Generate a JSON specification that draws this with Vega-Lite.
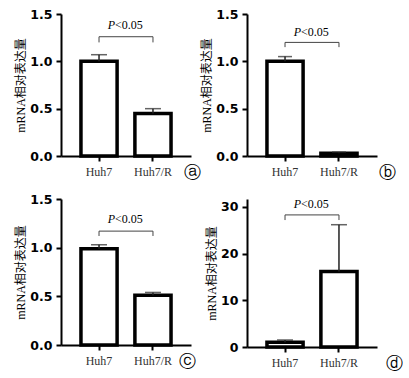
{
  "$schema": "https://vega.github.io/schema/vega-lite/v6.json",
  "background": "white",
  "padding": {"left": 14, "top": 8, "right": 0, "bottom": 0},
  "config": {
    "view": {"stroke": null},
    "axis": {"domainColor": "#000", "domainWidth": 2, "tickColor": "#000", "tickWidth": 2, "tickSize": 5, "grid": false, "labelColor": "#000"},
    "axisY": {"labelFont": "DejaVu Sans", "labelFontWeight": "bold", "labelFontSize": 12.5, "titleFont": "'Liberation Serif', 'Noto Sans CJK SC'", "titleFontSize": 12, "titleFontWeight": "normal", "titleColor": "#000", "titlePadding": 2, "labelPadding": 4},
    "axisX": {"labelFont": "Liberation Serif", "labelFontSize": 12, "labelAngle": 0, "labelPadding": 5, "labelColor": "#333"}
  },
  "columns": 2,
  "bounds": "flush",
  "spacing": {"row": 43, "column": 56},
  "concat": [
    {
      "width": 130, "height": 142,
      "layer": [
        {
          "data": {"values": [{"group": "Huh7", "value": 1.0, "upper": 1.07}, {"group": "Huh7/R", "value": 0.45, "upper": 0.50}]},
          "layer": [
            {"mark": {"type": "bar", "fill": "white", "stroke": "black", "strokeWidth": 3.5},
             "encoding": {
               "x": {"field": "group", "type": "nominal", "scale": {"domain": ["Huh7", "Huh7/R"], "paddingInner": 0.33, "paddingOuter": 0.37}, "axis": {"title": null}},
               "y": {"field": "value", "type": "quantitative", "scale": {"domain": [0, 1.5], "nice": false}, "axis": {"values": [0, 0.5, 1, 1.5], "format": ".1f", "title": "mRNA相对表达量"}}}},
            {"mark": {"type": "rule", "color": "#222", "strokeWidth": 1.5},
             "encoding": {"x": {"field": "group", "type": "nominal"}, "y": {"field": "value", "type": "quantitative"}, "y2": {"field": "upper"}}},
            {"mark": {"type": "tick", "color": "#222", "thickness": 1.5, "size": 16, "orient": "horizontal"},
             "encoding": {"x": {"field": "group", "type": "nominal"}, "y": {"field": "upper", "type": "quantitative"}}}
          ]
        },
        {
          "data": {"values": [{"group": "Huh7", "top": 1.26, "end": 1.2, "label": 1.38, "letter": "ⓐ"}, {"group": "Huh7/R", "top": 1.26, "end": 1.2, "label": 1.38, "letter": "ⓐ"}]},
          "layer": [
            {"mark": {"type": "rule", "color": "#444", "strokeWidth": 1},
             "encoding": {"x": {"field": "group", "type": "nominal"}, "y": {"field": "end", "type": "quantitative"}, "y2": {"field": "top"}}},
            {"transform": [{"filter": "datum.group === 'Huh7'"}],
             "layer": [
               {"mark": {"type": "rule", "color": "#444", "strokeWidth": 1},
                "encoding": {"x": {"field": "group", "type": "nominal"}, "x2": {"datum": "Huh7/R"}, "y": {"field": "top", "type": "quantitative"}}},
               {"mark": {"type": "text", "text": "P", "font": "Liberation Serif", "fontStyle": "italic", "fontSize": 12, "align": "right", "baseline": "middle", "dx": 16},
                "encoding": {"x": {"field": "group", "type": "nominal"}, "y": {"field": "label", "type": "quantitative"}}},
               {"mark": {"type": "text", "text": "<0.05", "font": "Liberation Serif", "fontSize": 12, "align": "left", "baseline": "middle", "dx": 16},
                "encoding": {"x": {"field": "group", "type": "nominal"}, "y": {"field": "label", "type": "quantitative"}}},
               {"mark": {"type": "text", "font": "DejaVu Sans", "fontSize": 17, "align": "center", "baseline": "middle", "dx": 93, "dy": 17},
                "encoding": {"x": {"field": "group", "type": "nominal"}, "y": {"datum": 0, "type": "quantitative"}, "text": {"field": "letter"}}}
             ]}
          ]
        }
      ]
    },
    {
      "width": 130, "height": 142,
      "layer": [
        {
          "data": {"values": [{"group": "Huh7", "value": 1.0, "upper": 1.05}, {"group": "Huh7/R", "value": 0.03, "upper": 0.04}]},
          "layer": [
            {"mark": {"type": "bar", "fill": "white", "stroke": "black", "strokeWidth": 3.5},
             "encoding": {
               "x": {"field": "group", "type": "nominal", "scale": {"domain": ["Huh7", "Huh7/R"], "paddingInner": 0.33, "paddingOuter": 0.37}, "axis": {"title": null}},
               "y": {"field": "value", "type": "quantitative", "scale": {"domain": [0, 1.5], "nice": false}, "axis": {"values": [0, 0.5, 1, 1.5], "format": ".1f", "title": "mRNA相对表达量"}}}},
            {"mark": {"type": "rule", "color": "#222", "strokeWidth": 1.5},
             "encoding": {"x": {"field": "group", "type": "nominal"}, "y": {"field": "value", "type": "quantitative"}, "y2": {"field": "upper"}}},
            {"mark": {"type": "tick", "color": "#222", "thickness": 1.5, "size": 14, "orient": "horizontal"},
             "encoding": {"x": {"field": "group", "type": "nominal"}, "y": {"field": "upper", "type": "quantitative"}}}
          ]
        },
        {
          "data": {"values": [{"group": "Huh7", "top": 1.2, "end": 1.15, "label": 1.31, "letter": "ⓑ"}, {"group": "Huh7/R", "top": 1.2, "end": 1.15, "label": 1.31, "letter": "ⓑ"}]},
          "layer": [
            {"mark": {"type": "rule", "color": "#444", "strokeWidth": 1},
             "encoding": {"x": {"field": "group", "type": "nominal"}, "y": {"field": "end", "type": "quantitative"}, "y2": {"field": "top"}}},
            {"transform": [{"filter": "datum.group === 'Huh7'"}],
             "layer": [
               {"mark": {"type": "rule", "color": "#444", "strokeWidth": 1},
                "encoding": {"x": {"field": "group", "type": "nominal"}, "x2": {"datum": "Huh7/R"}, "y": {"field": "top", "type": "quantitative"}}},
               {"mark": {"type": "text", "text": "P", "font": "Liberation Serif", "fontStyle": "italic", "fontSize": 12, "align": "right", "baseline": "middle", "dx": 16},
                "encoding": {"x": {"field": "group", "type": "nominal"}, "y": {"field": "label", "type": "quantitative"}}},
               {"mark": {"type": "text", "text": "<0.05", "font": "Liberation Serif", "fontSize": 12, "align": "left", "baseline": "middle", "dx": 16},
                "encoding": {"x": {"field": "group", "type": "nominal"}, "y": {"field": "label", "type": "quantitative"}}},
               {"mark": {"type": "text", "font": "DejaVu Sans", "fontSize": 17, "align": "center", "baseline": "middle", "dx": 102, "dy": 17},
                "encoding": {"x": {"field": "group", "type": "nominal"}, "y": {"datum": 0, "type": "quantitative"}, "text": {"field": "letter"}}}
             ]}
          ]
        }
      ]
    },
    {
      "width": 130, "height": 146,
      "layer": [
        {
          "data": {"values": [{"group": "Huh7", "value": 0.99, "upper": 1.03}, {"group": "Huh7/R", "value": 0.51, "upper": 0.54}]},
          "layer": [
            {"mark": {"type": "bar", "fill": "white", "stroke": "black", "strokeWidth": 3.5},
             "encoding": {
               "x": {"field": "group", "type": "nominal", "scale": {"domain": ["Huh7", "Huh7/R"], "paddingInner": 0.33, "paddingOuter": 0.37}, "axis": {"title": null}},
               "y": {"field": "value", "type": "quantitative", "scale": {"domain": [0, 1.5], "nice": false}, "axis": {"values": [0, 0.5, 1, 1.5], "format": ".1f", "title": "mRNA相对表达量"}}}},
            {"mark": {"type": "rule", "color": "#222", "strokeWidth": 1.5},
             "encoding": {"x": {"field": "group", "type": "nominal"}, "y": {"field": "value", "type": "quantitative"}, "y2": {"field": "upper"}}},
            {"mark": {"type": "tick", "color": "#222", "thickness": 1.5, "size": 16, "orient": "horizontal"},
             "encoding": {"x": {"field": "group", "type": "nominal"}, "y": {"field": "upper", "type": "quantitative"}}}
          ]
        },
        {
          "data": {"values": [{"group": "Huh7", "top": 1.17, "end": 1.12, "label": 1.29, "letter": "ⓒ"}, {"group": "Huh7/R", "top": 1.17, "end": 1.12, "label": 1.29, "letter": "ⓒ"}]},
          "layer": [
            {"mark": {"type": "rule", "color": "#444", "strokeWidth": 1},
             "encoding": {"x": {"field": "group", "type": "nominal"}, "y": {"field": "end", "type": "quantitative"}, "y2": {"field": "top"}}},
            {"transform": [{"filter": "datum.group === 'Huh7'"}],
             "layer": [
               {"mark": {"type": "rule", "color": "#444", "strokeWidth": 1},
                "encoding": {"x": {"field": "group", "type": "nominal"}, "x2": {"datum": "Huh7/R"}, "y": {"field": "top", "type": "quantitative"}}},
               {"mark": {"type": "text", "text": "P", "font": "Liberation Serif", "fontStyle": "italic", "fontSize": 12, "align": "right", "baseline": "middle", "dx": 16},
                "encoding": {"x": {"field": "group", "type": "nominal"}, "y": {"field": "label", "type": "quantitative"}}},
               {"mark": {"type": "text", "text": "<0.05", "font": "Liberation Serif", "fontSize": 12, "align": "left", "baseline": "middle", "dx": 16},
                "encoding": {"x": {"field": "group", "type": "nominal"}, "y": {"field": "label", "type": "quantitative"}}},
               {"mark": {"type": "text", "font": "DejaVu Sans", "fontSize": 17, "align": "center", "baseline": "middle", "dx": 88, "dy": 17},
                "encoding": {"x": {"field": "group", "type": "nominal"}, "y": {"datum": 0, "type": "quantitative"}, "text": {"field": "letter"}}}
             ]}
          ]
        }
      ]
    },
    {
      "width": 130, "height": 148,
      "layer": [
        {
          "data": {"values": [{"group": "Huh7", "value": 1.0, "upper": 1.5}, {"group": "Huh7/R", "value": 16.2, "upper": 26.2}]},
          "layer": [
            {"mark": {"type": "bar", "fill": "white", "stroke": "black", "strokeWidth": 3.5},
             "encoding": {
               "x": {"field": "group", "type": "nominal", "scale": {"domain": ["Huh7", "Huh7/R"], "paddingInner": 0.33, "paddingOuter": 0.37}, "axis": {"title": null}},
               "y": {"field": "value", "type": "quantitative", "scale": {"domain": [0, 31.71], "nice": false}, "axis": {"values": [0, 10, 20, 30], "format": "d", "title": "mRNA相对表达量"}}}},
            {"mark": {"type": "rule", "color": "#222", "strokeWidth": 1.5},
             "encoding": {"x": {"field": "group", "type": "nominal"}, "y": {"field": "value", "type": "quantitative"}, "y2": {"field": "upper"}}},
            {"mark": {"type": "tick", "color": "#222", "thickness": 1.5, "size": 16, "orient": "horizontal"},
             "encoding": {"x": {"field": "group", "type": "nominal"}, "y": {"field": "upper", "type": "quantitative"}}}
          ]
        },
        {
          "data": {"values": [{"group": "Huh7", "top": 28.3, "end": 27.2, "label": 30.6, "letter": "ⓓ"}, {"group": "Huh7/R", "top": 28.3, "end": 27.2, "label": 30.6, "letter": "ⓓ"}]},
          "layer": [
            {"mark": {"type": "rule", "color": "#444", "strokeWidth": 1},
             "encoding": {"x": {"field": "group", "type": "nominal"}, "y": {"field": "end", "type": "quantitative"}, "y2": {"field": "top"}}},
            {"transform": [{"filter": "datum.group === 'Huh7'"}],
             "layer": [
               {"mark": {"type": "rule", "color": "#444", "strokeWidth": 1},
                "encoding": {"x": {"field": "group", "type": "nominal"}, "x2": {"datum": "Huh7/R"}, "y": {"field": "top", "type": "quantitative"}}},
               {"mark": {"type": "text", "text": "P", "font": "Liberation Serif", "fontStyle": "italic", "fontSize": 12, "align": "right", "baseline": "middle", "dx": 16},
                "encoding": {"x": {"field": "group", "type": "nominal"}, "y": {"field": "label", "type": "quantitative"}}},
               {"mark": {"type": "text", "text": "<0.05", "font": "Liberation Serif", "fontSize": 12, "align": "left", "baseline": "middle", "dx": 16},
                "encoding": {"x": {"field": "group", "type": "nominal"}, "y": {"field": "label", "type": "quantitative"}}},
               {"mark": {"type": "text", "font": "DejaVu Sans", "fontSize": 17, "align": "center", "baseline": "middle", "dx": 109, "dy": 17},
                "encoding": {"x": {"field": "group", "type": "nominal"}, "y": {"datum": 0, "type": "quantitative"}, "text": {"field": "letter"}}}
             ]}
          ]
        }
      ]
    }
  ]
}
